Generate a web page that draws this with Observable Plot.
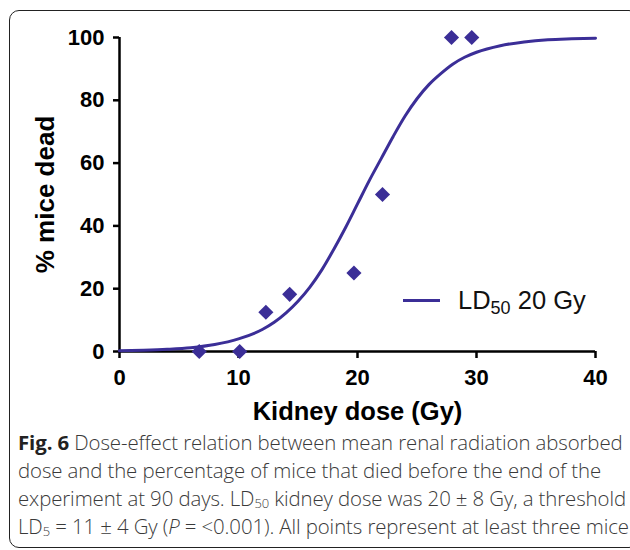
<!DOCTYPE html>
<html>
<head>
<meta charset="utf-8">
<script src="https://cdn.jsdelivr.net/npm/d3@7"></script>
<script src="https://cdn.jsdelivr.net/npm/@observablehq/plot@0.6"></script>
<style>
  html, body { margin: 0; padding: 0; background: #fff; width: 630px; height: 550px; overflow: hidden; }
  #frame { position: absolute; left: 9px; top: 10px; width: 630px; height: 538px; border: 1.5px solid #222; border-radius: 10px; box-sizing: border-box; }
  #chart { position: absolute; left: 0; top: 0; }
  #legend { position: absolute; left: 403px; top: 286px; font-family: "Liberation Sans", Arial, sans-serif; font-size: 25.5px; color: #111; white-space: nowrap; }
  #legend .sw { display: inline-block; width: 37px; height: 3px; background: #3b2e97; vertical-align: middle; margin-right: 18px; position: relative; top: -2px; }
  #legend sub { font-size: 18px; vertical-align: -5px; line-height: 0; }
  #caption { position: absolute; left: 18px; top: 428px; width: 612px; font-family: "Open Sans", "Noto Sans", sans-serif; font-weight: 300; font-size: 20.4px; line-height: 28px; color: #3a3a3a; white-space: nowrap; letter-spacing: -0.1px; }
  #caption b { font-weight: 700; color: #222; }
  #caption sub { font-size: 13px; vertical-align: -2px; line-height: 0; }
</style>
</head>
<body>
<div id="frame"></div>
<div id="chart"></div>
<div id="legend"><span class="sw"></span>LD<sub>50</sub> 20 Gy</div>
<div id="caption"><b>Fig. 6</b> Dose-effect relation between mean renal radiation absorbed<br>dose and the percentage of mice that died before the end of the<br>experiment at 90 days. LD<sub>50</sub> kidney dose was 20 ± 8 Gy, a threshold<br>LD<sub>5</sub> = 11 ± 4 Gy (<i>P</i> = &lt;0.001). All points represent at least three mice</div>
<script>
// Observed data points
const doses = [6.7, 10.1, 12.3, 14.3, 19.7, 22.1, 27.9, 29.6];
const deadPct = [0, 0, 12.5, 18.2, 25, 50, 100, 100];

// Fitted curve
const fitDose = [0, 2, 4, 6, 8, 10, 12, 13, 14, 15, 16, 17, 18, 19, 20, 21, 22, 23, 24, 25, 26, 27, 28, 29, 30, 32, 34, 36, 38, 40];
const fitPct  = [0.2, 0.4, 0.7, 1.2, 2.2, 4, 7, 9.3, 12.3, 16, 20.5, 26, 32.5, 39.5, 47, 54.5, 61.5, 68.5, 75, 80.5, 85, 88.5, 91.5, 93.7, 95.3, 97.4, 98.6, 99.3, 99.6, 99.8];

const xTicks = [0, 10, 20, 30, 40];
const yTicks = [0, 20, 40, 60, 80, 100];
const xTitle = "Kidney dose (Gy)";
const yTitle = "% mice dead";

const color = "#3b2e97";
const points = doses.map((d, i) => ({dose: d, pct: deadPct[i]}));
const fit = fitDose.map((d, i) => ({dose: d, pct: fitPct[i]}));

const font = "'Liberation Sans', Arial, sans-serif";

const chart = Plot.plot({
  width: 630,
  height: 430,
  marginLeft: 119,
  marginRight: 35,
  marginTop: 37,
  marginBottom: 79,
  style: {fontFamily: font, fontSize: "22px", fontWeight: "bold", color: "#000", background: "transparent"},
  x: {domain: [0, 40]},
  y: {domain: [0, 100]},
  marks: [
    Plot.axisX({ticks: xTicks, tickSize: 7, tickPadding: 11, strokeWidth: 2.5, label: null, fontSize: 22, tickFormat: d => String(d)}),
    Plot.axisY({ticks: yTicks, tickSize: 6, tickPadding: 9, strokeWidth: 2.5, label: null, fontSize: 22, tickFormat: d => String(d)}),
    Plot.ruleY([0], {stroke: "#000", strokeWidth: 2.5}),
    Plot.ruleX([0], {y1: 0, y2: 100, stroke: "#000", strokeWidth: 2.5}),
    Plot.line(fit, {x: "dose", y: "pct", stroke: color, strokeWidth: 3, curve: "monotone-x"}),
    Plot.dot(points, {x: "dose", y: "pct", symbol: "diamond2", r: 6.8, fill: color, stroke: "none"}),
    Plot.text([xTitle], {frameAnchor: "bottom", lineAnchor: "middle", textAnchor: "middle", dy: 60, text: d => d, fontSize: 25.5, fontWeight: "bold", fill: "#000"}),
    Plot.text([yTitle], {frameAnchor: "left", lineAnchor: "middle", textAnchor: "middle", dx: -74, rotate: -90, text: d => d, fontSize: 26, fontWeight: "bold", fill: "#000"})
  ]
});
document.getElementById("chart").appendChild(chart);
</script>
</body>
</html>
